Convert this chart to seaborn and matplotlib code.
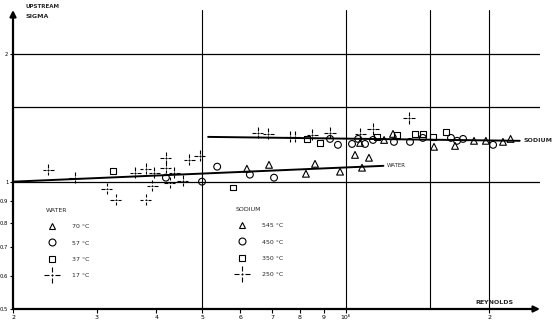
import numpy as np
import pandas as pd
import matplotlib
matplotlib.use("Agg")
import matplotlib.pyplot as plt
from matplotlib.path import Path
from matplotlib.lines import Line2D
import seaborn as sns

# ---------------- data ----------------
water_70_re = [6.20e5, 6.90e5, 8.25e5, 8.62e5, 9.73e5, 1.046e6, 1.082e6, 1.119e6]
water_70_sigma = [1.073, 1.096, 1.044, 1.102, 1.056, 1.157, 1.079, 1.139]
water_57_re = [4.19e5, 4.99e5, 5.37e5, 6.29e5, 7.07e5]
water_57_sigma = [1.022, 1.000, 1.085, 1.039, 1.022]
water_37_re = [3.24e5, 5.80e5]
water_37_sigma = [1.061, 0.968]
water_17_re = [2.37e5, 2.70e5, 3.15e5, 3.29e5, 3.61e5, 3.80e5, 3.96e5, 3.92e5,
               3.80e5, 4.19e5, 4.19e5, 4.36e5, 4.27e5, 4.55e5, 4.69e5, 4.94e5]
water_17_sigma = [1.067, 1.022, 0.963, 0.907, 1.050, 1.073, 1.050, 0.979,
                  0.907, 1.139, 1.079, 1.050, 0.995, 1.005, 1.126, 1.151]

sodium_545_re = [1.072e6, 1.204e6, 1.257e6, 1.533e6, 1.697e6, 1.86e6, 1.97e6, 2.14e6, 2.22e6]
sodium_545_sigma = [1.235, 1.255, 1.297, 1.209, 1.215, 1.249, 1.249, 1.242, 1.262]
sodium_450_re = [9.27e5, 9.63e5, 1.031e6, 1.062e6, 1.098e6, 1.141e6, 1.263e6,
                 1.365e6, 1.452e6, 1.664e6, 1.714e6, 1.764e6, 2.04e6]
sodium_450_sigma = [1.262, 1.222, 1.228, 1.262, 1.228, 1.255, 1.242,
                    1.242, 1.269, 1.269, 1.249, 1.262, 1.222]
sodium_350_re = [8.29e5, 8.83e5, 1.163e6, 1.281e6, 1.398e6, 1.452e6, 1.526e6, 1.624e6]
sodium_350_sigma = [1.262, 1.235, 1.276, 1.290, 1.297, 1.297, 1.276, 1.311]
sodium_250_re = [6.54e5, 6.87e5, 7.64e5, 7.82e5, 8.50e5, 9.27e5, 1.072e6, 1.141e6, 1.358e6]
sodium_250_sigma = [1.304, 1.297, 1.276, 1.276, 1.290, 1.304, 1.297, 1.332, 1.414]

water_fit_re = [2.0e5, 1.2e6]
water_fit_sigma = [1.0, 1.09]
sodium_fit_re = [5.14e5, 2.32e6]
sodium_fit_sigma = [1.276, 1.249]

water_labels = ["70 °C", "57 °C", "37 °C", "17 °C"]
sodium_labels = ["545 °C", "450 °C", "350 °C", "250 °C"]

x_tick_values = [2e5, 3e5, 4e5, 5e5, 6e5, 7e5, 8e5, 9e5, 1e6, 2e6]
x_tick_labels = ["2", "3", "4", "5", "6", "7", "8", "9", "10⁶", "2"]
y_tick_values = [0.5, 0.6, 0.7, 0.8, 0.9, 1.0, 2.0]
y_tick_labels = ["0.5", "0.6", "0.7", "0.8", "0.9", "1", "2"]
h_grid = [1.0, 1.5, 2.0]
v_grid = [5e5, 1e6, 1.5e6, 2e6]

# ---------------- style ----------------
sns.set_style("white")
plt.rcParams["font.family"] = ["DejaVu Sans"]

# dashed cross marker
cv = [(-1, 0), (-0.4, 0), (0.4, 0), (1, 0), (-0.15, 0), (0.15, 0),
      (0, -1), (0, -0.38), (0, 0.38), (0, 1), (0, -0.15), (0, 0.15)]
cc = [Path.MOVETO, Path.LINETO] * 6
cross = Path(cv, cc)

marker_map = {"tri": "^", "circ": "o", "sq": "s", "cross": cross}
size_map = {"tri": 24, "circ": 24, "sq": 16, "cross": 64}
kinds = ["tri", "circ", "sq", "cross"]

rows = []
for fluid, res, sigs, labs in [
    ("WATER", [water_70_re, water_57_re, water_37_re, water_17_re],
     [water_70_sigma, water_57_sigma, water_37_sigma, water_17_sigma], water_labels),
    ("SODIUM", [sodium_545_re, sodium_450_re, sodium_350_re, sodium_250_re],
     [sodium_545_sigma, sodium_450_sigma, sodium_350_sigma, sodium_250_sigma], sodium_labels),
]:
    for k, r, s, lab in zip(kinds, res, sigs, labs):
        for a, b in zip(r, s):
            rows.append({"fluid": fluid, "kind": k, "temp": lab, "re": a, "sigma": b})
df = pd.DataFrame(rows)

W, H = 558, 329
fig = plt.figure(figsize=(W / 100, H / 100), dpi=100)
x0, x1 = 13, 540
y0, y1 = 309, 10
ax = fig.add_axes([x0 / W, 1 - y0 / H, (x1 - x0) / W, (y0 - y1) / H])
ax.set_xscale("log")
ax.set_yscale("log")
ax.set_xlim(2e5, 2e5 * 10 ** ((x1 - x0) / 476))
ax.set_ylim(0.5, 0.5 * 10 ** ((y0 - y1) / 423))

# grid lines
for g in h_grid:
    ax.axhline(g, color="black", lw=0.9, zorder=1)
for g in v_grid:
    ax.axvline(g, color="black", lw=0.8, zorder=1)

# fitted lines
sns.lineplot(x=water_fit_re, y=water_fit_sigma, color="black", lw=1.4, ax=ax, zorder=2)
sns.lineplot(x=sodium_fit_re, y=sodium_fit_sigma, color="black", lw=1.4, ax=ax, zorder=2)

# points
for k in kinds:
    sub = df[df["kind"] == k]
    sns.scatterplot(data=sub, x="re", y="sigma", marker=marker_map[k], s=size_map[k],
                    color="black", facecolors="none", edgecolor="black",
                    linewidth=0.8, ax=ax, zorder=3, legend=False)

# axes lines with arrows
for s in ax.spines.values():
    s.set_visible(False)
ax.annotate("", xy=(0, 1), xytext=(0, 0), xycoords="axes fraction",
            arrowprops=dict(arrowstyle="-|>", color="black", lw=1.6,
                            mutation_scale=9, shrinkA=0, shrinkB=0))
ax.annotate("", xy=(1, 0), xytext=(0, 0), xycoords="axes fraction",
            arrowprops=dict(arrowstyle="-|>", color="black", lw=1.6,
                            mutation_scale=9, shrinkA=0, shrinkB=0))

ax.set_xticks(x_tick_values)
ax.set_xticklabels(x_tick_labels)
ax.set_yticks(y_tick_values)
ax.set_yticklabels(y_tick_labels)
ax.minorticks_off()
ax.tick_params(axis="x", labelsize=4.5, length=3, width=0.8, pad=1.5,
               direction="out", colors="black", bottom=True)
ax.tick_params(axis="y", labelsize=3.8, length=2.5, width=0.8, pad=0.8,
               direction="out", colors="black", left=True)
ax.set_xlabel("")
ax.set_ylabel("")

# texts
fs = 4.5
fig.text(26 / W, 1 - 7 / H, "UPSTREAM", fontsize=4, fontweight="bold", va="center", ha="left")
fig.text(26 / W, 1 - 16 / H, "SIGMA", fontsize=4.5, fontweight="bold", va="center", ha="left")
fig.text(494 / W, 1 - 302 / H, "REYNOLDS", fontsize=fs, fontweight="bold", va="center", ha="center")
ax.text(1.22e6, 1.09, "WATER", fontsize=4, va="center", ha="left")
ax.text(2.36e6, 1.249, "SODIUM", fontsize=4.5, fontweight="bold", va="center", ha="left")

# legends
def handles():
    hs = []
    for k in kinds:
        ms = 12 if k == "cross" else (4.2 if k == "sq" else 5)
        hs.append(Line2D([], [], linestyle="", marker=marker_map[k], markersize=ms,
                         markerfacecolor="none", markeredgecolor="black", markeredgewidth=0.8))
    return hs

kw = dict(fontsize=fs, title_fontsize=fs, frameon=False, labelspacing=1.75,
          handlelength=2.0, handletextpad=2.2, borderpad=0, borderaxespad=0,
          alignment="left", loc="upper left")
leg1 = ax.legend(handles(), water_labels, title="WATER",
                 bbox_to_anchor=(46 / W, 1 - 208 / H), bbox_transform=fig.transFigure, **kw)
ax.add_artist(leg1)
leg2 = ax.legend(handles(), sodium_labels, title="SODIUM",
                 bbox_to_anchor=(236 / W, 1 - 207 / H), bbox_transform=fig.transFigure, **kw)

fig.savefig("out.png", dpi=100)
